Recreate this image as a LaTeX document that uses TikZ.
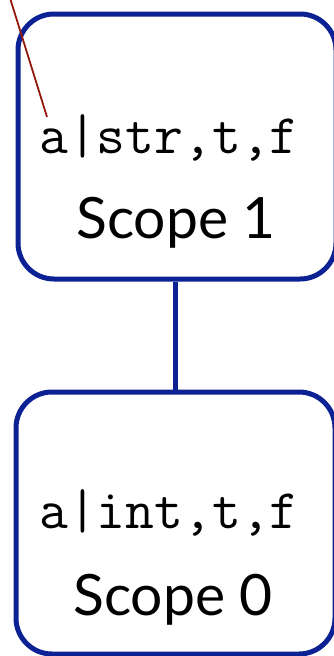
\documentclass[tikz,border=0pt]{standalone}
\usepackage{fontspec}
\newfontfamily\scopefont{Lato}
\definecolor{boxblue}{HTML}{0C2294}
\definecolor{linkred}{HTML}{921A0C}
\begin{document}
\begin{tikzpicture}[x=1pt,y=1pt,
  scopebox/.style={draw=boxblue,line width=5pt,rounded corners=36pt,inner sep=0pt},
  vartext/.style={font=\fontsize{56}{56}\selectfont\ttfamily,inner sep=0pt,anchor=base west},
  scopetext/.style={font=\fontsize{57}{57}\selectfont\scopefont,inner sep=0pt,anchor=base west},
  link/.style={draw=boxblue,line width=5pt},
  redlink/.style={draw=linkred,line width=1.8pt}]
\useasboundingbox (0,0) rectangle (333,-656);
\node[scopebox,minimum width=318pt,minimum height=265pt] (s1) at (177,-146.5) {};
\node[scopebox,minimum width=319pt,minimum height=262pt] (s0) at (175.5,-523) {};
\draw[link] (s0.north |- s1.south) -- (s0.north);
\node[vartext] (v1) at (39,-153) {a|str,t,f};
\node[scopetext] (n1) at (76,-238) {Scope 1};
\node[vartext] (v0) at (39,-528) {a|int,t,f};
\node[scopetext] (n0) at (73,-615) {Scope 0};
\coordinate (src) at (10,2);
\draw[redlink] (src) -- ([shift={(8,-3)}]v1.north west);
\end{tikzpicture}
\end{document}
